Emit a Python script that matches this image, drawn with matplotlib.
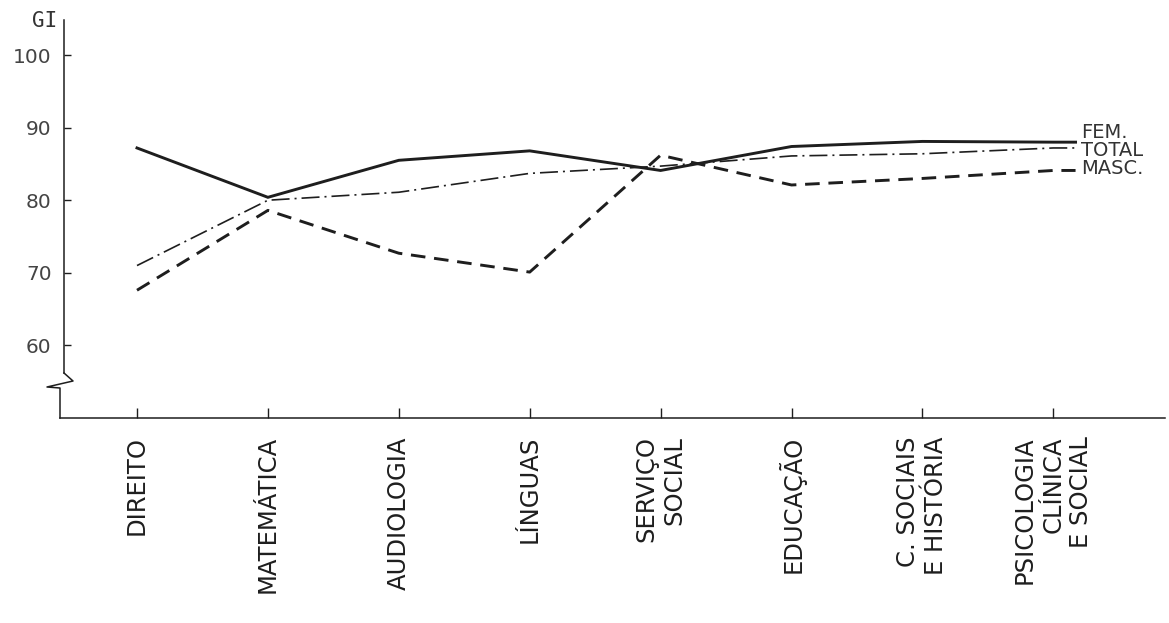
import numpy as np
import matplotlib
matplotlib.use("Agg")
import matplotlib.pyplot as plt
from matplotlib.lines import Line2D

categories = ["DIREITO", "MATEMÁTICA", "AUDIOLOGIA", "LÍNGUAS", "SERVIÇO\nSOCIAL",
              "EDUCAÇÃO", "C. SOCIAIS\nE HISTÓRIA", "PSICOLOGIA\nCLÍNICA\nE SOCIAL"]
fem = [87.2, 80.4, 85.5, 86.8, 84.1, 87.4, 88.1, 88.0]
total = [71.0, 80.0, 81.1, 83.7, 84.7, 86.1, 86.4, 87.2]
masc = [67.6, 78.6, 72.7, 70.1, 86.2, 82.1, 83.0, 84.1]
series_labels = ["FEM.", "TOTAL", "MASC."]
yticks = [60, 70, 80, 90, 100]

W, H = 1169, 623
fig = plt.figure(figsize=(W / 100, H / 100), dpi=100)
fig.patch.set_facecolor("white")
left_px, right_px, top_px, bottom_px = 60, 1165, 20, 418
ax = fig.add_axes([left_px / W, 1 - bottom_px / H, (right_px - left_px) / W, (bottom_px - top_px) / H])

x = np.arange(len(categories))
ext = 0.17
xe = np.append(x, x[-1] + ext)

ink = "#1e1e1e"
ax.plot(xe, np.append(fem, fem[-1]), color=ink, lw=2.1, solid_joinstyle="miter")
l_tot, = ax.plot(xe, np.append(total, total[-1]), color=ink, lw=1.2)
l_tot.set_dashes((10.8, 3, 1.2, 3))
l_masc, = ax.plot(xe, np.append(masc, masc[-1]), color=ink, lw=2.1)
l_masc.set_dashes((5, 3))

ax.set_xlim((left_px - 137) / 130.9, (right_px - 137) / 130.9)
ax.set_ylim(50, 100 + (55 - top_px) / 7.25)

for s in ["top", "right"]:
    ax.spines[s].set_visible(False)
ax.spines["left"].set_position(("axes", 4 / (right_px - left_px)))
ax.spines["left"].set_bounds(100 - (373 - 55) / 7.25, 100 + (55 - top_px) / 7.25)
ax.spines["left"].set_color(ink)
ax.spines["bottom"].set_color(ink)
ax.spines["left"].set_linewidth(1.1)
ax.spines["bottom"].set_linewidth(1.1)

# axis break zigzag (decoration)
pts = [(64, 373), (73, 381), (47, 387), (60, 388), (60, 418)]
fig.add_artist(Line2D([p[0] / W for p in pts], [1 - p[1] / H for p in pts],
                      transform=fig.transFigure, color=ink, lw=1.1))

ax.set_yticks(yticks)
ax.set_yticklabels([str(v) for v in yticks])
ax.tick_params(axis="y", direction="in", length=5, width=1, labelsize=14.5,
               pad=9, colors=ink, labelcolor="#444")
ax.set_xticks(x)
ax.set_xticklabels(categories, rotation=90, fontsize=17.5, color="#333")
for t in ax.get_xticklabels():
    t.set_multialignment("right")
    t.set_linespacing(1.22)
ax.tick_params(axis="x", direction="in", length=7, width=1, pad=13, colors=ink)

fig.text(57 / W, 1 - 21 / H, "GI", ha="right", va="center", fontsize=15,
         family="DejaVu Sans Mono", color="#333")

label_y = [132, 150, 169]
for lab, py in zip(series_labels, label_y):
    fig.text(1081 / W, 1 - py / H, lab, ha="left", va="center", fontsize=14, color="#333")

fig.savefig("out.png", dpi=100, facecolor="white")
